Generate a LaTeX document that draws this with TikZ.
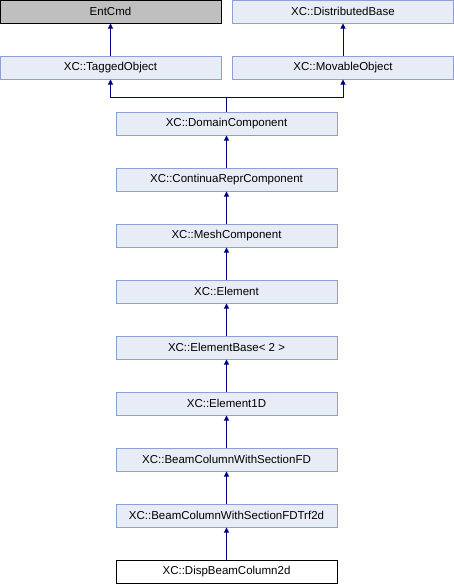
\documentclass[tikz,border=0pt]{standalone}
\usepackage{fontspec}
\setmainfont{Liberation Sans}
\usetikzlibrary{arrows.meta}
\definecolor{boxfill}{HTML}{E8ECF6}
\definecolor{boxline}{HTML}{8CA0D4}
\definecolor{grayfill}{HTML}{BFBFBF}
\definecolor{arrcol}{HTML}{000080}
\tikzset{
  cls/.style={draw=boxline, fill=boxfill, line width=1pt, minimum width=221pt, minimum height=23pt, inner sep=0pt, font=\fontsize{11.5}{13}\selectfont},
  ext/.style={cls, draw=black, fill=grayfill},
  cur/.style={cls, draw=black, fill=white},
  inh/.style={draw=arrcol, line width=1pt, -{Triangle[length=5pt,width=5pt]}}
}
\begin{document}
\begin{tikzpicture}[x=1pt,y=-1pt]
\useasboundingbox (0,0) rectangle (454,584);
\node[ext] (ent) at (110.5,11.5) {EntCmd};
\node[cls] (dist) at (343,11.5) {XC::DistributedBase};
\node[cls] (tag) at (110.5,67.5) {XC::TaggedObject};
\node[cls] (mov) at (343,67.5) {XC::MovableObject};
\node[cls] (dom) at (226.5,123.5) {XC::DomainComponent};
\node[cls] (cont) at (226.5,179.5) {XC::ContinuaReprComponent};
\node[cls] (mesh) at (226.5,235.5) {XC::MeshComponent};
\node[cls] (elem) at (226.5,291.5) {XC::Element};
\node[cls] (ebase) at (226.5,347.5) {XC::ElementBase< 2 >};
\node[cls] (e1d) at (226.5,403.5) {XC::Element1D};
\node[cls] (bcfd) at (226.5,459.5) {XC::BeamColumnWithSectionFD};
\node[cls] (bctrf) at (226.5,515.5) {XC::BeamColumnWithSectionFDTrf2d};
\node[cur] (disp) at (226.5,571.5) {XC::DispBeamColumn2d};
\coordinate (join) at (226.5,97);
\draw[inh] (tag.north) -- (ent.south);
\draw[inh] (mov.north) -- (dist.south);
\draw[inh] (dom.north) -- (join) -| (tag.south);
\draw[inh] (join) -| (mov.south);
\draw[inh] (cont) -- (dom);
\draw[inh] (mesh) -- (cont);
\draw[inh] (elem) -- (mesh);
\draw[inh] (ebase) -- (elem);
\draw[inh] (e1d) -- (ebase);
\draw[inh] (bcfd) -- (e1d);
\draw[inh] (bctrf) -- (bcfd);
\draw[inh] (disp) -- (bctrf);
\end{tikzpicture}
\end{document}
